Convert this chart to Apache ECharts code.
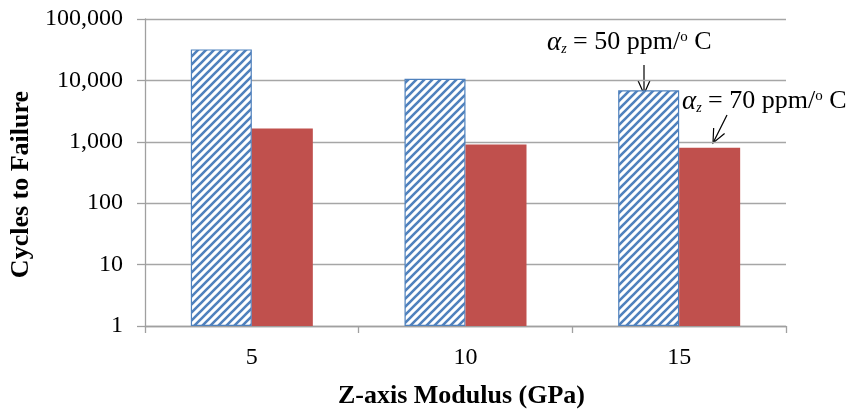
<!DOCTYPE html>
<html>
<head>
<meta charset="utf-8">
<script src="https://cdn.jsdelivr.net/npm/echarts@6/dist/echarts.min.js"></script>
<style>
html,body{margin:0;padding:0;background:#fff;}
#chart{width:852px;height:414px;}
</style>
</head>
<body>
<div id="chart"></div>
<script>
const categories = ['5', '10', '15'];
const alpha50 = [32000, 10600, 6900];
const alpha70 = [1650, 900, 800];
const yTicks = [1, 10, 100, 1000, 10000, 100000];

const FONT = '"Liberation Serif", "Times New Roman", serif';

// hatch pattern
const pc = document.createElement('canvas');
pc.width = 8; pc.height = 8;
const pctx = pc.getContext('2d');
pctx.fillStyle = '#ffffff';
pctx.fillRect(0, 0, 8, 8);
pctx.strokeStyle = '#4f81bd';
pctx.lineWidth = 2.6;
pctx.beginPath();
pctx.moveTo(-2, 10); pctx.lineTo(10, -2);
pctx.moveTo(-6, 6); pctx.lineTo(6, -6);
pctx.moveTo(2, 14); pctx.lineTo(14, 2);
pctx.stroke();

function arrow(x1, y1, x2, y2) {
  const ang = Math.atan2(y2 - y1, x2 - x1);
  const L = 15, W = 0.42;
  const p1 = [x2 - L * Math.cos(ang - W), y2 - L * Math.sin(ang - W)];
  const p2 = [x2 - L * Math.cos(ang + W), y2 - L * Math.sin(ang + W)];
  return [
    { type: 'line', shape: { x1, y1, x2, y2 }, style: { stroke: '#000', lineWidth: 1.2 } },
    { type: 'polyline', shape: { points: [p1, [x2, y2], p2] }, style: { stroke: '#000', lineWidth: 1.2, fill: null } }
  ];
}

const rich = {
  a: { fontFamily: FONT, fontStyle: 'italic', fontSize: 27, color: '#000' },
  sub: { fontFamily: FONT, fontStyle: 'italic', fontSize: 14, color: '#000', padding: [14, 0, 0, 0] },
  n: { fontFamily: FONT, fontSize: 26, color: '#000' },
  sup: { fontFamily: FONT, fontSize: 15, color: '#000', padding: [0, 0, 11, 0] }
};

const chart = echarts.init(document.getElementById('chart'), null, { renderer: 'canvas' });
chart.setOption({
  animation: false,
  backgroundColor: '#fff',
  grid: { left: 145, right: 66, top: 19, bottom: 86, containLabel: false },
  xAxis: {
    type: 'category',
    data: categories,
    name: 'Z-axis Modulus (GPa)',
    nameLocation: 'middle',
    nameGap: 57,
    nameTextStyle: { fontFamily: FONT, fontWeight: 'bold', fontSize: 26, color: '#000', padding: [0, 8, 0, 0] },
    axisLine: { lineStyle: { color: '#a0a0a0', width: 1.3 } },
    axisTick: { show: true, length: 7, lineStyle: { color: '#a0a0a0', width: 1.3 } },
    axisLabel: { fontFamily: FONT, fontSize: 24, color: '#000', margin: 20 }
  },
  yAxis: {
    type: 'log',
    logBase: 10,
    min: yTicks[0],
    max: yTicks[yTicks.length - 1],
    name: 'Cycles to Failure',
    nameLocation: 'middle',
    nameRotate: 90,
    nameGap: 110,
    nameTextStyle: { fontFamily: FONT, fontWeight: 'bold', fontSize: 26, color: '#000', padding: [0, 24, 0, 0] },
    axisLine: { show: true, lineStyle: { color: '#a0a0a0', width: 1.3 } },
    axisTick: { show: true, length: 8, lineStyle: { color: '#a0a0a0', width: 1.3 } },
    splitLine: { show: true, lineStyle: { color: '#a6a6a6', width: 1.3 } },
    axisLabel: {
      fontFamily: FONT, fontSize: 24, color: '#000', margin: 22,
      formatter: v => Number(v).toLocaleString('en-US')
    }
  },
  series: [
    {
      name: 'alpha50', type: 'bar', data: alpha50, barWidth: 61, barGap: '0%',
      itemStyle: { color: { image: pc, repeat: 'repeat' }, borderColor: '#4f81bd', borderWidth: 1.2 }
    },
    {
      name: 'alpha70', type: 'bar', data: alpha70, barWidth: 61, barGap: '0%',
      itemStyle: { color: '#c0504d' }
    }
  ],
  graphic: [
    {
      type: 'text', left: 547, top: 29,
      style: { text: '{a|α}{sub|z}{n| = 50 ppm/}{sup|o}{n| C}', rich: rich }
    },
    {
      type: 'text', left: 682, top: 88,
      style: { text: '{a|α}{sub|z}{n| = 70 ppm/}{sup|o}{n| C}', rich: rich }
    },
    ...arrow(644, 65, 644, 94),
    ...arrow(727, 115, 713, 143)
  ]
});
</script>
</body>
</html>
